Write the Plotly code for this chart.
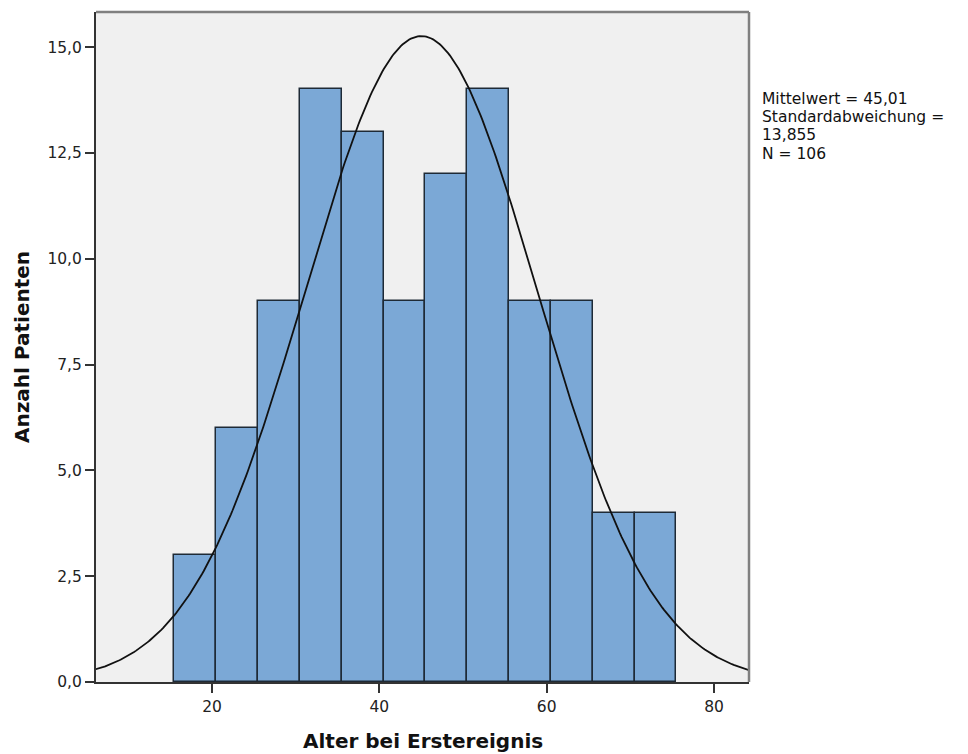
import numpy as np
import plotly.graph_objects as go

bin_starts = [15.5, 20.5, 25.5, 30.5, 35.5, 40.5, 45.5, 50.5, 55.5, 60.5, 65.5, 70.5]
counts = [3, 6, 9, 14, 13, 9, 12, 14, 9, 9, 4, 4]
bin_width = 5
mean = 45.01
sd = 13.855
n = 106
x_ticks = [20, 40, 60, 80]
y_ticks = [0, 2.5, 5, 7.5, 10, 12.5, 15]
stats_lines = ["Mittelwert = 45,01", "Standardabweichung =", "13,855", "N = 106"]

centers = [b + bin_width / 2 for b in bin_starts]

fig = go.Figure()
fig.add_trace(go.Bar(
    x=centers, y=counts, width=[bin_width] * len(counts),
    marker=dict(color="#7BA8D6", line=dict(color="#1E2A36", width=1.5)),
    hoverinfo="skip",
))
xs = np.linspace(5, 86, 400)
ys = n * bin_width / (sd * np.sqrt(2 * np.pi)) * np.exp(-0.5 * ((xs - mean) / sd) ** 2)
fig.add_trace(go.Scatter(x=xs, y=ys, mode="lines", line=dict(color="#111111", width=1.8),
                         hoverinfo="skip"))

font_reg = "DejaVu Sans, Verdana, sans-serif"
fig.update_layout(
    width=968, height=754,
    margin=dict(l=88, r=227, t=4, b=80),
    paper_bgcolor="white", plot_bgcolor="#F0F0F0",
    showlegend=False, separators=",.", bargap=0,
    xaxis=dict(range=[6.13, 84.18], tickvals=x_ticks, ticks="outside", ticklen=9,
               tickwidth=2, tickcolor="#333", showgrid=False, zeroline=False,
               showline=True, linecolor="#333", linewidth=2, automargin=False,
               tickfont=dict(family=font_reg, size=15.5, color="#222")),
    yaxis=dict(range=[0, 15.83], tickvals=y_ticks, tickformat=".1f", ticks="outside", ticklen=9,
               tickwidth=2, tickcolor="#333", showgrid=False, zeroline=False,
               showline=True, linecolor="#333", linewidth=2, automargin=False,
               tickfont=dict(family=font_reg, size=15.5, color="#222")),
)
# frame top and right
fig.add_shape(type="line", xref="paper", yref="paper", x0=0, x1=1, y0=1, y1=1,
              line=dict(color="#808080", width=2.5), layer="above")
fig.add_shape(type="line", xref="paper", yref="paper", x0=1, x1=1, y0=0, y1=1,
              line=dict(color="#808080", width=2.5), layer="above")
# axis titles
fig.add_annotation(xref="paper", yref="paper", x=0.5, y=0, xanchor="center", yanchor="top",
                   yshift=-45, showarrow=False, text="<b>Alter bei Erstereignis</b>",
                   font=dict(family=font_reg, size=20, color="#111"))
fig.add_annotation(xref="paper", yref="paper", x=0, y=0.5, xanchor="center", yanchor="middle",
                   xshift=-74, textangle=-90, showarrow=False, text="<b>Anzahl Patienten</b>",
                   font=dict(family=font_reg, size=20, color="#111"))
for i, line in enumerate(stats_lines):
    fig.add_annotation(xref="paper", yref="paper", x=1, y=1, xanchor="left", yanchor="top",
                       xshift=12, yshift=-77 - 18.2 * i, align="left", showarrow=False,
                       borderpad=0,
                       text=line, font=dict(family=font_reg, size=15.5, color="#111"))
fig.write_html("out.html")
